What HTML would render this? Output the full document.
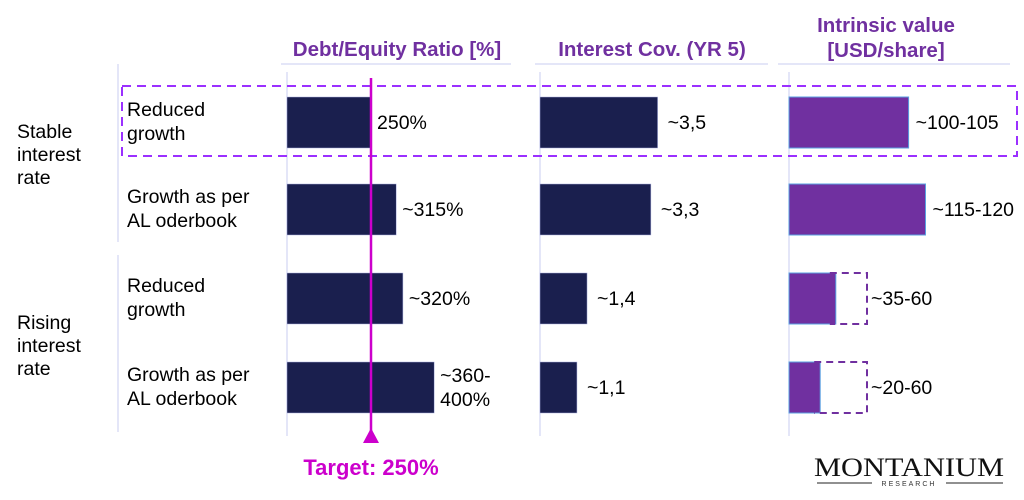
<!DOCTYPE html>
<html><head><meta charset="utf-8"><style>
body{margin:0;background:#fff;font-family:"Liberation Sans",sans-serif;}
svg text{font-family:"Liberation Sans",sans-serif;}
</style></head><body>
<svg width="1024" height="495" viewBox="0 0 1024 495">
</svg>
<script>
const rowLabels=[["Reduced","growth"],["Growth as per","AL oderbook"],["Reduced","growth"],["Growth as per","AL oderbook"]];
const deValues=[250,325,345,438];
const deLabels=[["250%"],["~315%"],["~320%"],["~360-","400%"]];
const icValues=[3.5,3.3,1.4,1.1];
const icLabels=["~3,5","~3,3","~1,4","~1,1"];
const ivLow=[92,105,36,24];
const ivHigh=[null,null,60,60];
const ivLabels=["~100-105","~115-120","~35-60","~20-60"];
const targetValue=250;

const NS="http://www.w3.org/2000/svg";
const svg=document.querySelector('svg');
function el(tag,attrs,parent,text){const e=document.createElementNS(NS,tag);for(const k in attrs)e.setAttribute(k,attrs[k]);if(text!=null)e.textContent=text;(parent||svg).appendChild(e);return e;}
const rowTop=[97,184,273,362], barH=51;
const deX=v=>287+v*0.336, icX=v=>540+v*33.6, ivX=v=>789+v*1.3;
const FS=19.5, HS=20.5;

let t;
t=el('text',{x:397,y:56,'text-anchor':'middle','font-size':HS,'font-weight':'bold',fill:'#7030a0'},null,'Debt/Equity Ratio [%]');

t=el('text',{x:652,y:56,'text-anchor':'middle','font-size':HS,'font-weight':'bold',fill:'#7030a0'},null,'Interest Cov. (YR 5)');

t=el('text',{x:886,y:32,'text-anchor':'middle','font-size':HS,'font-weight':'bold',fill:'#7030a0'},null,'Intrinsic value');

t=el('text',{x:886,y:57,'text-anchor':'middle','font-size':HS,'font-weight':'bold',fill:'#7030a0'},null,'[USD/share]');

[[281,511],[535,768],[778,1010]].forEach(([a,b])=>{const l=el('line',{x1:a,x2:b,y1:64,y2:64,stroke:'#c8ccf0','stroke-width':1});});
[[118,64,242],[118,255,432],[287,72,436],[540,72,436],[789,72,436]].forEach(([x,a,b])=>{const l=el('line',{x1:x,x2:x,y1:a,y2:b,stroke:'#c8ccf0','stroke-width':1});});
[["Stable","interest","rate",138],["Rising","interest","rate",329]].forEach(g=>{for(let i=0;i<3;i++){const x=el('text',{x:17,y:g[3]+i*23,'font-size':FS,fill:'#000'},null,g[i]);}});
t=el('rect',{x:122,y:86,width:895,height:70,fill:'none',stroke:'#9b30ff','stroke-width':2,'stroke-dasharray':'9 6'});


rowLabels.forEach((lab,i)=>{
 const y=rowTop[i];
 lab.forEach((s,j)=>{const x=el('text',{x:127,y:y+19+j*24,'font-size':FS,fill:'#000'},null,s);});
 let r=el('rect',{x:287,y:y,width:deX(deValues[i])-287,height:barH,fill:'#1a1f4e',stroke:'#aab0e0','stroke-width':0.5});
 
 const dl=deLabels[i];
 dl.forEach((s,j)=>{const x=el('text',{x:deX(deValues[i])+6,y:y+(dl.length==1?32:20+j*24),'font-size':FS,fill:'#000'},null,s);});
 r=el('rect',{x:540,y:y,width:icX(icValues[i])-540,height:barH,fill:'#1a1f4e',stroke:'#aab0e0','stroke-width':0.5});
 
 let x=el('text',{x:icX(icValues[i])+10,y:y+32,'font-size':FS,fill:'#000'},null,icLabels[i]);
 
 r=el('rect',{x:789,y:y,width:ivX(ivLow[i])-789,height:barH,fill:'#7030a0',stroke:'#5aa0e0','stroke-width':1});
 
 let end=ivX(ivLow[i]);
 if(ivHigh[i]!=null){
  end=ivX(ivHigh[i]);
  r=el('path',{d:`M${ivX(ivLow[i])-6} ${y}H${end}V${y+barH}H${ivX(ivLow[i])-6}`,fill:'none',stroke:'#7030a0','stroke-width':2,'stroke-dasharray':'7 5'});
  
 }
 x=el('text',{x:end+(ivHigh[i]!=null?4:7),y:y+32,'font-size':FS,fill:'#000'},null,ivLabels[i]);
 
});
const tx=deX(targetValue);
t=el('line',{x1:tx,x2:tx,y1:78,y2:436,stroke:'#cc00cc','stroke-width':2.5});

t=el('polygon',{points:`${tx-8},443 ${tx+8},443 ${tx},428`,fill:'#cc00cc'});

t=el('text',{x:tx,y:475,'text-anchor':'middle','font-size':22,'font-weight':'bold',fill:'#cc00cc'},null,'Target: 250%');

t=el('text',{x:909,y:476,'text-anchor':'middle','font-size':26,fill:'#111','textLength':190,'lengthAdjust':'spacingAndGlyphs'},null,'MONTANIUM');
t.style.fontFamily='"Liberation Serif",serif';

t=el('text',{x:909,y:486,'text-anchor':'middle','font-size':7,fill:'#333','letter-spacing':'2'},null,'RESEARCH');

[[817,872],[946,1003]].forEach(([a,b])=>{const l=el('line',{x1:a,x2:b,y1:483,y2:483,stroke:'#222','stroke-width':1});});
</script>
</body></html>
